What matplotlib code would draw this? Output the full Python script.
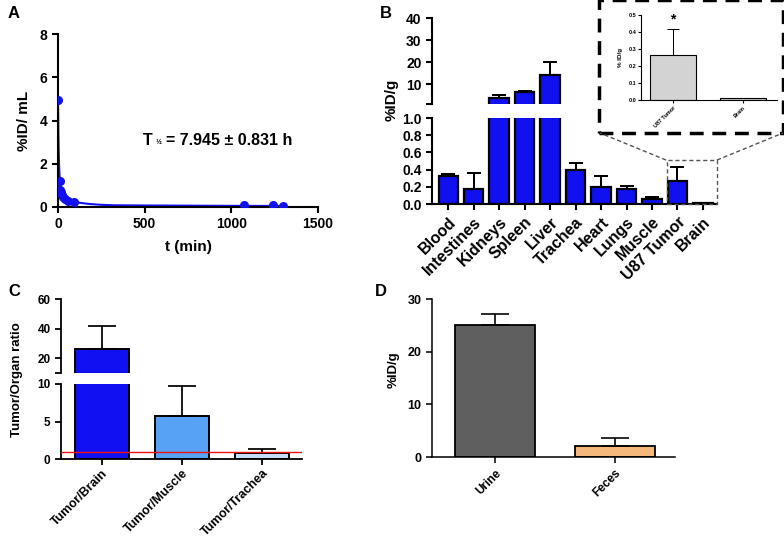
import numpy as np
import matplotlib
matplotlib.use("Agg")
import matplotlib.pyplot as plt
from matplotlib.patches import Rectangle
from matplotlib.lines import Line2D

plt.rcParams['font.family'] = ['Liberation Sans', 'DejaVu Sans']
plt.rcParams['font.weight'] = 'bold'
plt.rcParams['axes.labelweight'] = 'bold'

W, H = 784, 542

# --- A: blood clearance
t_pts = [2, 10, 14, 18, 22, 28, 40, 55, 90, 1075, 1240, 1300]
c_pts = [4.95, 1.2, 0.8, 0.7, 0.55, 0.45, 0.38, 0.3, 0.25, 0.08, 0.07, 0.05]
t_fit = [0, 1, 2, 4, 6, 8, 10, 15, 20, 30, 45, 60, 90, 120, 180, 250, 320, 500, 800, 1100, 1300]
c_fit = [5.0, 4.3, 3.5, 2.6, 2.0, 1.6, 1.3, 0.95, 0.75, 0.55, 0.42, 0.35, 0.26, 0.2,
         0.14, 0.1, 0.08, 0.07, 0.06, 0.05, 0.05]

# --- B: biodistribution
organs = ['Blood', 'Intestines', 'Kidneys', 'Spleen', 'Liver', 'Trachea', 'Heart',
          'Lungs', 'Muscle', 'U87 Tumor', 'Brain']
pct = [0.32, 0.17, 3.5, 6.3, 14.2, 0.39, 0.2, 0.17, 0.06, 0.27, 0.01]
pct_err = [0.03, 0.19, 1.5, 0.7, 5.8, 0.09, 0.13, 0.04, 0.02, 0.16, 0.0]
inset_names = ['U87 Tumor', 'Brain']
inset_vals = [0.265, 0.01]
inset_err = [0.155, 0.0]

# --- C: tumor/organ ratios
ratio_names = ['Tumor/Brain', 'Tumor/Muscle', 'Tumor/Trachea']
ratios = [26.5, 5.7, 0.85]
ratio_err = [15.5, 4.1, 0.45]

# --- D: excretion
excr_names = ['Urine', 'Feces']
excr = [25.0, 2.0]
excr_err = [2.2, 1.7]

BLUE = '#1010f0'

fig = plt.figure(figsize=(W / 100, H / 100), dpi=100)


def px_axes(x0, y0, x1, y1):
    return fig.add_axes([x0 / W, 1 - y1 / H, (x1 - x0) / W, (y1 - y0) / H])


def style(ax, lw, fs, bottom=True):
    for s in ['top', 'right']:
        ax.spines[s].set_visible(False)
    ax.spines['left'].set_linewidth(lw)
    ax.spines['bottom'].set_linewidth(lw)
    if not bottom:
        ax.spines['bottom'].set_visible(False)
        ax.set_xticks([])
    ax.tick_params(width=lw, length=4, labelsize=fs, direction='out')


def bars(ax, vals, errs, colors, width, lw, cap, lo=-np.inf, hi=np.inf):
    x = np.arange(len(vals))
    vals = np.array(vals)
    errs = np.array(errs)
    colors = np.array(colors if isinstance(colors, list) else [colors] * len(vals))
    # bars that reach into this axis segment
    show = vals > lo
    ax.bar(x[show], vals[show], width=width, color=list(colors[show]), edgecolor='black',
           linewidth=lw, zorder=2)
    # only error bars whose cap falls inside this segment
    keep = (vals + errs > lo) & (vals < hi)
    ax.errorbar(x[keep], vals[keep], yerr=[np.zeros(keep.sum()), errs[keep]], fmt='none',
                ecolor='black', elinewidth=lw * 0.9, capsize=cap, capthick=lw * 0.9, zorder=3)


# ---------------- A
axA = px_axes(58, 34, 318, 207)
axA.plot(t_fit, c_fit, color=BLUE, lw=1.5, zorder=2)
axA.plot(t_pts, c_pts, 'o', color=BLUE, ms=5.5, zorder=3)
axA.set_xlim(0, 1500)
axA.set_ylim(0, 8)
axA.set_xticks([0, 500, 1000, 1500])
axA.set_yticks([0, 2, 4, 6, 8])
style(axA, 1.5, 10)
axA.set_xlabel('t (min)', fontsize=11, labelpad=6)
axA.set_ylabel('%ID/ mL', fontsize=11, labelpad=6)
fig.text(143 / W, 1 - 140 / H, 'T', fontsize=11.5, va='center')
fig.text(156 / W, 1 - 143 / H, '½', fontsize=5, va='center')
fig.text(166 / W, 1 - 140 / H, '= 7.945 ± 0.831 h', fontsize=11.5, va='center')
fig.text(8 / W, 1 - 14 / H, 'A', fontsize=12, va='center')

# ---------------- B
xl = (-0.63, 10.55)
axB2 = px_axes(432, 18, 717, 104)
bars(axB2, pct, pct_err, BLUE, 0.75, 1.6, 5, lo=1)
axB2.set_xlim(*xl)
axB2.set_ylim(1, 40)
axB2.set_yticks([1, 10, 20, 30, 40])
axB2.set_yticklabels(['', '10', '20', '30', '40'])
style(axB2, 1.5, 10, bottom=False)

axB = px_axes(432, 118, 717, 204)
bars(axB, pct, pct_err, BLUE, 0.75, 1.6, 5, hi=1)
axB.set_xlim(*xl)
axB.set_ylim(0, 1.0)
axB.set_yticks([0, 0.2, 0.4, 0.6, 0.8, 1.0])
axB.set_yticklabels(['0.0', '0.2', '0.4', '0.6', '0.8', '1.0'])
axB.set_xticks(np.arange(len(organs)))
axB.set_xticklabels(organs, rotation=45, ha='right', rotation_mode='anchor')
style(axB, 1.5, 10)
axB.tick_params(axis='x', labelsize=11.5)
fig.text(392 / W, 1 - 100 / H, '%ID/g', fontsize=11, rotation=90, ha='center', va='center')
fig.text(380 / W, 1 - 13 / H, 'B', fontsize=12, va='center')

# zoom box and connectors
axB.add_patch(Rectangle((8.6, 0), 1.95, 0.51, fill=False, ls=(0, (3, 2)), lw=1,
                        edgecolor='#555555', clip_on=False, zorder=4))
fig.add_artist(Rectangle((599 / W, 1 - 133 / H), 184 / W, 133 / H, fill=False,
                         ls=(0, (4, 2.5)), lw=2.5, edgecolor='black',
                         transform=fig.transFigure))
fig.add_artist(Line2D([666 / W, 600 / W], [1 - 160 / H, 1 - 133 / H], ls=(0, (3, 2)),
                      lw=1, color='#555555', transform=fig.transFigure))
fig.add_artist(Line2D([717 / W, 783 / W], [1 - 160 / H, 1 - 133 / H], ls=(0, (3, 2)),
                      lw=1, color='#555555', transform=fig.transFigure))

axI = px_axes(641, 15, 777, 100)
bars(axI, inset_vals, inset_err, '#d3d3d3', 0.66, 0.8, 4)
axI.set_xlim(-0.46, 1.49)
axI.set_ylim(0, 0.5)
axI.set_yticks([0, 0.1, 0.2, 0.3, 0.4, 0.5])
axI.set_yticklabels(['0.0', '0.1', '0.2', '0.3', '0.4', '0.5'])
axI.set_xticks([0, 1])
axI.set_xticklabels(inset_names, rotation=45, ha='right', rotation_mode='anchor')
style(axI, 0.8, 4)
axI.tick_params(length=2, pad=1.5)
axI.set_ylabel('% ID/g', fontsize=4.5, labelpad=4)
axI.text(0, inset_vals[0] + inset_err[0] + 0.015, '*', ha='center', va='bottom', fontsize=10)

# ---------------- C
xc = (-0.51, 2.5)
ccol = [BLUE, '#58a2f6', '#c6ddf7']
axC2 = px_axes(61, 299, 302, 373)
bars(axC2, ratios, ratio_err, ccol, 0.675, 1.4, 10, lo=10)
axC2.set_xlim(*xc)
axC2.set_ylim(10, 60)
axC2.set_yticks([10, 20, 40, 60])
axC2.set_yticklabels(['', '20', '40', '60'])
style(axC2, 1.3, 8.5, bottom=False)

axC = px_axes(61, 384, 302, 459)
bars(axC, ratios, ratio_err, ccol, 0.675, 1.4, 10, hi=10)
axC.axhline(1, color='#ee1111', lw=1, zorder=4)
axC.set_xlim(*xc)
axC.set_ylim(0, 10)
axC.set_yticks([0, 5, 10])
axC.set_xticks(np.arange(len(ratio_names)))
axC.set_xticklabels(ratio_names, rotation=45, ha='right', rotation_mode='anchor')
style(axC, 1.3, 8.5)
axC.tick_params(axis='x', labelsize=9, pad=2)
fig.text(17 / W, 1 - 380 / H, 'Tumor/Organ ratio', fontsize=9.5, rotation=90,
         ha='center', va='center')
fig.text(8 / W, 1 - 292 / H, 'C', fontsize=12, va='center')

# ---------------- D
axD = px_axes(432, 299, 675, 457)
bars(axD, excr, excr_err, ['#5f5f5f', '#f4b77c'], 0.67, 1.3, 10)
axD.set_xlim(-0.525, 1.5)
axD.set_ylim(0, 30)
axD.set_yticks([0, 10, 20, 30])
axD.set_xticks(np.arange(len(excr_names)))
axD.set_xticklabels(excr_names, rotation=45, ha='right', rotation_mode='anchor')
style(axD, 1.1, 9)
axD.tick_params(axis='x', labelsize=8.5)
fig.text(394 / W, 1 - 370 / H, '%ID/g', fontsize=9.5, rotation=90, ha='center', va='center')
fig.text(375 / W, 1 - 292 / H, 'D', fontsize=12, va='center')

fig.savefig('out.png', dpi=100)
